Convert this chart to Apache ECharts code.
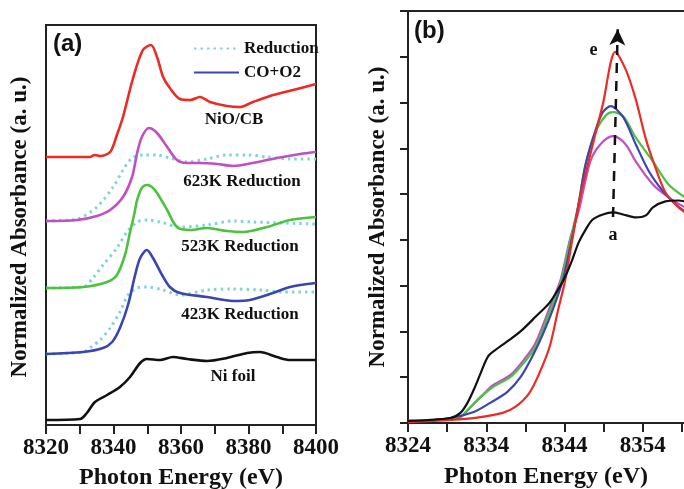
<!DOCTYPE html>
<html>
<head>
<meta charset="utf-8">
<script src="https://cdn.jsdelivr.net/npm/echarts@6/dist/echarts.min.js"></script>
<style>html,body{margin:0;padding:0;background:#fff;overflow:hidden}#c{width:721px;height:489px}</style>
</head>
<body>
<div id="c"></div>
<script>
// ---------- Panel (a): stacked spectra (energy eV, offset absorbance) ----------
const niocbA = [[8320,26.8],[8333,26.8],[8334.5,27.0],[8336,26.9],[8339,27.3],[8341,29.0],[8342.8,30.8],[8345.8,34.7],[8348.7,37.5],[8351.1,38.0],[8352.9,36.8],[8354.7,34.8],[8356.7,33.7],[8359.7,32.6],[8362.7,32.5],[8365.6,32.8],[8368.6,32.3],[8373.6,31.9],[8377.5,31.8],[8381.3,32.3],[8387.3,33.0],[8393.2,33.5],[8400,34.1]];
const k623CO = [[8320,20.4],[8329.2,20.5],[8335.1,20.9],[8339,21.5],[8342.8,22.8],[8345.5,24.8],[8347,27.2],[8348.4,28.8],[8350.5,29.7],[8352.9,29.2],[8355.9,27.8],[8358.8,26.5],[8361.8,26.2],[8365.6,26.2],[8370.7,26.1],[8375.4,25.9],[8381.3,26.2],[8388.4,26.7],[8395.3,27.1],[8400,27.3]];
const k623Red = [[8320,20.4],[8327.1,20.5],[8330.1,20.7],[8335.1,21.8],[8339.9,23.8],[8342.8,25.5],[8345.5,26.7],[8348.7,27.0],[8352.9,27.0],[8356.7,26.7],[8361.8,26.3],[8367.7,26.6],[8373.6,27.0],[8379.6,27.0],[8385.5,26.8],[8392.3,26.6],[8400,26.6]];
const k523CO = [[8320,13.7],[8331,13.8],[8338.1,14.3],[8341,15.0],[8343.4,17.0],[8344.9,19.3],[8346.1,21.0],[8347,22.5],[8348.4,23.7],[8349.9,24.0],[8351.4,23.8],[8352.9,23.2],[8355.9,21.5],[8358.8,19.8],[8362.7,19.5],[8367.7,19.7],[8373.6,19.4],[8378.4,19.3],[8385.5,19.8],[8392.3,20.5],[8400,20.8]];
const k523Red = [[8320,13.7],[8331,13.8],[8333.9,14.7],[8336.9,16.0],[8341,17.7],[8344,19.3],[8347,20.3],[8349.9,20.5],[8353.8,20.3],[8359.7,19.8],[8367.7,20.0],[8375.4,20.4],[8381.3,20.3],[8390.2,20.2],[8400,20.1]];
const k423CO = [[8320,7.1],[8331,7.3],[8336.9,7.7],[8339.6,8.3],[8341.9,9.7],[8344.3,12.0],[8346.4,15.0],[8347.9,16.7],[8349.9,17.5],[8351.7,16.7],[8354.4,15.0],[8356.7,13.8],[8359.7,13.2],[8367.7,12.8],[8375.4,12.4],[8380.4,12.5],[8387.3,13.2],[8392.3,13.8],[8400,14.2]];
const k423Red = [[8320,7.1],[8331,7.3],[8333,7.7],[8336,8.5],[8339,9.7],[8341.9,11.3],[8344.3,13.0],[8347,13.7],[8349.9,13.8],[8354.7,13.5],[8359.7,13.0],[8367.7,13.5],[8375.4,13.6],[8383.4,13.5],[8390.2,13.3],[8400,13.3]];
const niFoilA = [[8320,0.5],[8330.1,0.6],[8332.1,1.2],[8334.5,2.3],[8338.1,3.0],[8341.9,3.8],[8344.9,4.8],[8347.9,6.2],[8349.9,6.6],[8353.8,6.5],[8357.6,6.8],[8361.8,6.6],[8367.7,6.4],[8373.6,6.7],[8379.6,7.2],[8383.4,7.3],[8388.4,6.8],[8392.3,6.5],[8400,6.5]];
const ticksA = [8320, 8400, 20];
const curveLabelsA = ['NiO/CB','623K Reduction','523K Reduction','423K Reduction','Ni foil'];

// ---------- Panel (b): edge region, curves a..e ----------
const curveBa = [[8324,0.009],[8329.4,0.022],[8330.7,0.044],[8331.6,0.088],[8332.4,0.145],[8333.3,0.219],[8334.2,0.289],[8335.2,0.320],[8337,0.364],[8338.6,0.407],[8340.3,0.464],[8342.1,0.526],[8343.4,0.596],[8344.1,0.640],[8345,0.714],[8345.8,0.788],[8346.7,0.845],[8347.6,0.889],[8348.9,0.911],[8350.2,0.920],[8351.5,0.911],[8353.1,0.898],[8354.4,0.907],[8355.3,0.942],[8356.9,0.968],[8358.6,0.972],[8359.4,0.968],[8360.5,0.965]];
const curveBb = [[8324,0.009],[8329.4,0.018],[8330.7,0.026],[8332,0.070],[8333.3,0.114],[8334.9,0.166],[8337.1,0.210],[8338.8,0.276],[8340.3,0.350],[8342.1,0.504],[8343.5,0.626],[8344.7,0.802],[8345.8,0.924],[8347.3,1.143],[8348.6,1.218],[8350.2,1.253],[8351.8,1.218],[8353.1,1.143],[8355.3,1.042],[8357.3,0.986],[8359.4,0.942],[8360.5,0.93]];
const curveBc = [[8324,0.009],[8329.4,0.018],[8330.7,0.026],[8332,0.070],[8333.3,0.114],[8334.9,0.158],[8337.1,0.201],[8338.8,0.263],[8340.3,0.333],[8342.1,0.486],[8343.5,0.613],[8344.7,0.793],[8345.7,0.942],[8346.7,1.130],[8348,1.275],[8349.3,1.345],[8350.2,1.358],[8351.5,1.340],[8353.1,1.248],[8355.3,1.143],[8357.3,1.042],[8359.4,0.986],[8360.5,0.97]];
const curveBd = [[8324,0.004],[8329.4,0.022],[8332.4,0.048],[8334.5,0.088],[8336.7,0.136],[8338.4,0.201],[8340,0.298],[8341.2,0.385],[8342.5,0.495],[8343.8,0.626],[8344.8,0.780],[8345.8,0.955],[8346.7,1.130],[8348,1.283],[8348.9,1.358],[8349.9,1.384],[8351.5,1.336],[8353.1,1.218],[8354.8,1.099],[8356.6,1.012],[8358.2,0.955],[8359.4,0.924],[8360.5,0.91]];
const curveBe = [[8324,0.004],[8329.4,0.013],[8332.6,0.022],[8336.1,0.044],[8337.7,0.070],[8339.5,0.131],[8340.8,0.219],[8342.1,0.333],[8343.1,0.482],[8344.1,0.626],[8345,0.802],[8346,0.986],[8347.3,1.174],[8348.9,1.393],[8350.5,1.621],[8351.8,1.546],[8353.1,1.415],[8354.4,1.240],[8355.7,1.108],[8356.9,1.007],[8358.2,0.955],[8359.4,0.920],[8360.5,0.90]];
const arrowB = [[8350.2,0.90],[8350.8,1.72]];
const labelA_pos = [8350.2,0.86];
const labelE_pos = [8347.7,1.63];
const ticksB = [8324, 8364, 10];

const SERIF = '"Liberation Serif","Times New Roman",serif';
const SANS = '"Liberation Sans",Arial,sans-serif';
const C = {red:'#ee2a24', mag:'#c24ec4', green:'#4cc23e', blue:'#3a45b4', black:'#111111', cyan:'#7fd5d5'};

function line(name, data, color, xi, opts) {
  return Object.assign({
    type:'line', name, data, xAxisIndex:xi, yAxisIndex:xi, symbol:'none', smooth:0.3,
    lineStyle:{color, width:2.6}, itemStyle:{color}, silent:true, z:3
  }, opts||{});
}
function dotted(data) {
  return line('Reduction', data, C.cyan, 0, {lineStyle:{color:C.cyan, width:3, type:[2.5,4]}, z:2});
}

const chart = echarts.init(document.getElementById('c'), null, {renderer:'canvas', width:721, height:489});
const axisTxt = {fontFamily:SERIF, fontWeight:'bold', fontSize:23, color:'#111', formatter:(v)=>String(v)};
const xAx = (gi, t) => ({gridIndex:gi, type:'value', min:t[0], max:t[1], interval:t[2],
     axisLine:{lineStyle:{color:'#222', width:2}}, splitLine:{show:false},
     axisTick:{length:9, lineStyle:{color:'#222', width:2}},
     minorTick:{show:true, splitNumber:2, length:9, lineStyle:{color:'#222', width:2}},
     axisLabel:Object.assign({margin:12}, axisTxt)});
chart.setOption({
  animation:false,
  backgroundColor:'#fff',
  grid:[
    {left:46, right:405, top:25, bottom:64, show:true, borderColor:'#222', borderWidth:2, backgroundColor:'transparent', outerBoundsMode:'none', containLabel:false},
    {left:408, right:0, top:11, bottom:66, show:true, borderColor:'#222', borderWidth:2, backgroundColor:'transparent', outerBoundsMode:'none', containLabel:false}
  ],
  legend:{left:188, top:35, orient:'vertical', itemWidth:45, itemHeight:14, itemGap:7, selectedMode:false,
    itemStyle:{opacity:0},
    data:['Reduction','CO+O2'], textStyle:{fontFamily:SERIF, fontWeight:'bold', fontSize:17, color:'#111'}},
  xAxis:[xAx(0, ticksA), xAx(1, ticksB)],
  yAxis:[
    {gridIndex:0, type:'value', min:0, max:40, axisLine:{show:true, lineStyle:{color:'#222', width:2}},
     axisTick:{show:false}, axisLabel:{show:false}, splitLine:{show:false}},
    {gridIndex:1, type:'value', min:0, max:1.8, interval:0.2, axisLine:{show:true, lineStyle:{color:'#222', width:2}},
     axisTick:{show:true, length:8, lineStyle:{color:'#222', width:2}}, axisLabel:{show:false}, splitLine:{show:false}}
  ],
  series:[
    dotted(k623Red), dotted(k523Red), dotted(k423Red),
    line('NiO/CB', niocbA, C.red, 0),
    line('623K CO+O2', k623CO, C.mag, 0),
    line('523K CO+O2', k523CO, C.green, 0),
    line('CO+O2', k423CO, C.blue, 0),
    line('Ni foil', niFoilA, C.black, 0),
    line('b', curveBb, C.mag, 1, {lineStyle:{color:C.mag, width:2.2}}),
    line('c', curveBc, C.green, 1, {lineStyle:{color:C.green, width:2.2}}),
    line('d', curveBd, C.blue, 1, {lineStyle:{color:C.blue, width:2.2}}),
    line('e', curveBe, C.red, 1, {lineStyle:{color:C.red, width:2.2},
      markPoint:{silent:true, symbol:'circle', symbolSize:0, data:[{coord:labelE_pos, value:'e'}],
        label:{show:true, formatter:'e', fontFamily:SERIF, fontWeight:'bold', fontSize:18, color:'#111'}}}),
    line('a', curveBa, C.black, 1, {lineStyle:{color:C.black, width:2.2},
      markPoint:{silent:true, symbol:'circle', symbolSize:0, data:[{coord:labelA_pos, value:'a'}],
        label:{show:true, position:'bottom', distance:0, formatter:'a', fontFamily:SERIF, fontWeight:'bold', fontSize:18, color:'#111'}},
      markLine:{silent:true, symbol:['none','arrow'], symbolSize:[12,16], label:{show:false},
        lineStyle:{color:'#111', width:2.5, type:[10,8]},
        data:[[{coord:arrowB[0]},{coord:arrowB[1]}]]}})
  ],
  graphic:[
    {type:'text', left:53, top:32, style:{text:'(a)', font:'bold 24px '+SANS, fill:'#111'}},
    {type:'text', left:414, top:19, style:{text:'(b)', font:'bold 24px '+SANS, fill:'#111'}},
    {type:'text', x:234, y:120, style:{text:curveLabelsA[0], font:'bold 17px '+SERIF, fill:'#111', align:'center', verticalAlign:'middle'}},
    {type:'text', x:242, y:182, style:{text:curveLabelsA[1], font:'bold 17px '+SERIF, fill:'#111', align:'center', verticalAlign:'middle'}},
    {type:'text', x:240, y:247, style:{text:curveLabelsA[2], font:'bold 17px '+SERIF, fill:'#111', align:'center', verticalAlign:'middle'}},
    {type:'text', x:240, y:315, style:{text:curveLabelsA[3], font:'bold 17px '+SERIF, fill:'#111', align:'center', verticalAlign:'middle'}},
    {type:'text', x:233, y:377, style:{text:curveLabelsA[4], font:'bold 17px '+SERIF, fill:'#111', align:'center', verticalAlign:'middle'}},
    {type:'text', x:181, y:478, style:{text:'Photon Energy (eV)', font:'bold 24px '+SERIF, fill:'#111', align:'center', verticalAlign:'middle'}},
    {type:'text', x:546, y:477, style:{text:'Photon Energy (eV)', font:'bold 24px '+SERIF, fill:'#111', align:'center', verticalAlign:'middle'}},
    {type:'text', x:20, y:227, rotation:Math.PI/2, style:{text:'Normalized Absorbance (a. u.)', font:'bold 23px '+SERIF, fill:'#111', align:'center', verticalAlign:'middle'}},
    {type:'text', x:378, y:217, rotation:Math.PI/2, style:{text:'Normalized Absorbance (a. u.)', font:'bold 23px '+SERIF, fill:'#111', align:'center', verticalAlign:'middle'}}
  ]
});
</script>
</body>
</html>
